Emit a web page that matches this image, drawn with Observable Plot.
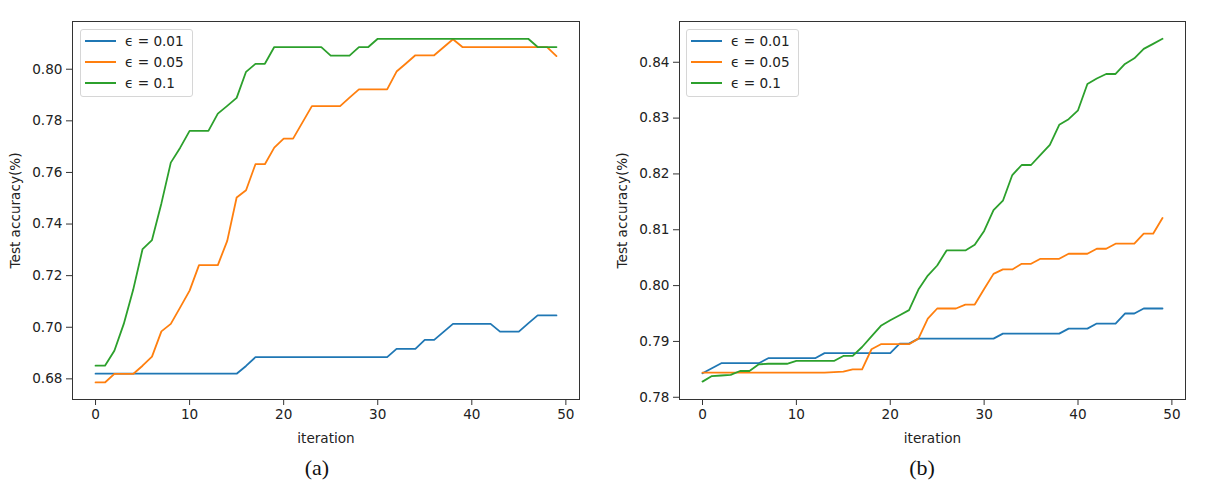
<!DOCTYPE html>
<html>
<head>
<meta charset="utf-8">
<script src="https://cdn.jsdelivr.net/npm/d3@7"></script>
<script src="https://cdn.jsdelivr.net/npm/@observablehq/plot@0.6"></script>
<style>
  html, body { margin: 0; padding: 0; background: #fff; }
  #wrap { position: relative; width: 1206px; height: 494px; overflow: hidden; font-family: "DejaVu Sans", sans-serif; }
  .panel { position: absolute; top: 0; }
  .legend { position: absolute; border: 1px solid #d6d6d6; border-radius: 3px; background: rgba(255,255,255,0.85); font-size: 13.6px; color: #222; box-sizing: border-box; }
  .legend .row { position: absolute; left: 0; height: 20px; line-height: 20px; white-space: nowrap; }
  .legend .sw { position: absolute; left: 4px; top: 9px; width: 31px; height: 2px; }
  .legend .lab { position: absolute; left: 44px; top: 0; }
  .caption { position: absolute; font-family: "Liberation Serif", "Times New Roman", serif; font-size: 22px; color: #111; text-align: center; width: 60px; }
</style>
</head>
<body>
<div id="wrap"></div>
<script>
// ---- data ----
const seriesNames = ["ϵ = 0.01", "ϵ = 0.05", "ϵ = 0.1"];
const seriesColors = ["#1f77b4", "#ff7f0e", "#2ca02c"];
const iterations = d3.range(50);

const xTicks = [0, 10, 20, 30, 40, 50];
const yTicksA = [0.68, 0.70, 0.72, 0.74, 0.76, 0.78, 0.80];
const yTicksB = [0.78, 0.79, 0.80, 0.81, 0.82, 0.83, 0.84];

// Panel (a)
const a_eps001 = [
  0.682,0.682,0.682,0.682,0.682,0.682,0.682,0.682,0.682,0.682,
  0.682,0.682,0.682,0.682,0.682,0.682,0.685,0.6884,0.6884,0.6884,
  0.6884,0.6884,0.6884,0.6884,0.6884,0.6884,0.6884,0.6884,0.6884,0.6884,
  0.6884,0.6884,0.6916,0.6916,0.6916,0.6951,0.6951,0.6982,0.7013,0.7013,
  0.7013,0.7013,0.7013,0.6983,0.6983,0.6983,0.7015,0.7046,0.7046,0.7046
];
const a_eps005 = [
  0.6786,0.6786,0.6819,0.6819,0.6819,0.6851,0.6886,0.6984,0.7013,0.7077,
  0.7142,0.7241,0.7241,0.7241,0.7335,0.7503,0.7531,0.7632,0.7632,0.7696,
  0.7731,0.7731,0.7794,0.7857,0.7857,0.7857,0.7857,0.789,0.7922,0.7922,
  0.7922,0.7922,0.7991,0.8022,0.8054,0.8054,0.8054,0.8085,0.8116,0.8086,
  0.8086,0.8086,0.8086,0.8086,0.8086,0.8086,0.8086,0.8086,0.8086,0.8051
];
const a_eps01 = [
  0.6851,0.6851,0.6909,0.7013,0.7145,0.7303,0.7338,0.748,0.7638,0.7696,
  0.7761,0.7761,0.7761,0.7828,0.7858,0.7889,0.799,0.8021,0.8021,0.8086,
  0.8086,0.8086,0.8086,0.8086,0.8086,0.8053,0.8053,0.8053,0.8086,0.8086,
  0.8118,0.8118,0.8118,0.8118,0.8118,0.8118,0.8118,0.8118,0.8118,0.8118,
  0.8118,0.8118,0.8118,0.8118,0.8118,0.8118,0.8118,0.8086,0.8086,0.8086
];

// Panel (b)
const b_eps001 = [
  0.7843,0.7852,0.7861,0.7861,0.7861,0.7861,0.7861,0.787,0.787,0.787,
  0.787,0.787,0.787,0.7879,0.7879,0.7879,0.7879,0.7879,0.7879,0.7879,
  0.7879,0.7896,0.7896,0.7905,0.7905,0.7905,0.7905,0.7905,0.7905,0.7905,
  0.7905,0.7905,0.7914,0.7914,0.7914,0.7914,0.7914,0.7914,0.7914,0.7923,
  0.7923,0.7923,0.7932,0.7932,0.7932,0.795,0.795,0.7959,0.7959,0.7959
];
const b_eps005 = [
  0.7844,0.7844,0.7844,0.7844,0.7844,0.7844,0.7844,0.7844,0.7844,0.7844,
  0.7844,0.7844,0.7844,0.7844,0.7845,0.7846,0.785,0.785,0.7886,0.7895,
  0.7895,0.7895,0.7895,0.7905,0.7941,0.7959,0.7959,0.7959,0.7966,0.7966,
  0.7994,0.8021,0.8029,0.8029,0.8039,0.8039,0.8048,0.8048,0.8048,0.8057,
  0.8057,0.8057,0.8066,0.8066,0.8075,0.8075,0.8075,0.8093,0.8093,0.8121
];
const b_eps01 = [
  0.7828,0.7838,0.7839,0.784,0.7847,0.7847,0.7859,0.786,0.786,0.786,
  0.7865,0.7865,0.7865,0.7865,0.7865,0.7874,0.7874,0.789,0.7909,0.7928,
  0.7938,0.7947,0.7956,0.7993,0.8018,0.8036,0.8063,0.8063,0.8063,0.8073,
  0.8098,0.8135,0.8152,0.8198,0.8216,0.8216,0.8234,0.8252,0.8288,0.8298,
  0.8314,0.8361,0.8371,0.8379,0.8379,0.8397,0.8407,0.8424,0.8433,0.8442
];

function toRows(arrs) {
  const rows = [];
  arrs.forEach((arr, s) => arr.forEach((v, i) => rows.push({iter: iterations[i], acc: v, series: seriesNames[s]})));
  return rows;
}

const wrap = document.getElementById("wrap");

function panel({rows, yDomain, yTicks, left, marginLeft, marginRight, legendLeft, caption, captionCenter}) {
  const W = 603, H = 450;
  const chart = Plot.plot({
    width: W,
    height: H,
    marginLeft, marginRight,
    marginTop: 21,
    marginBottom: 51,
    style: {fontFamily: "DejaVu Sans, sans-serif", fontSize: "13.6px", color: "#222", background: "white", overflow: "visible"},
    x: {domain: [-2.45, 51.45]},
    y: {domain: yDomain},
    color: {domain: seriesNames, range: seriesColors},
    marks: [
      Plot.line(rows, {x: "iter", y: "acc", z: "series", stroke: "series", strokeWidth: 1.8, strokeLinejoin: "round"}),
      Plot.frame({stroke: "#333", strokeWidth: 1}),
      Plot.axisX({ticks: xTicks, tickSize: 6, tickPadding: 4, stroke: "#333",
        label: "iteration", labelAnchor: "center", labelArrow: "none", labelOffset: 43, fontSize: 13.6}),
      Plot.axisY({ticks: yTicks, tickFormat: d3.format(".2f"), tickSize: 6, tickPadding: 4, stroke: "#333",
        label: "Test accuracy(%)", labelAnchor: "center", labelArrow: "none", labelOffset: 62, fontSize: 13.6})
    ]
  });
  const holder = document.createElement("div");
  holder.className = "panel";
  holder.style.left = left + "px";
  holder.appendChild(chart);
  wrap.appendChild(holder);

  const lg = document.createElement("div");
  lg.className = "legend";
  lg.style.left = legendLeft + "px";
  lg.style.top = "29px";
  lg.style.width = "113px";
  lg.style.height = "68px";
  seriesNames.forEach((n, i) => {
    const r = document.createElement("div");
    r.className = "row";
    r.style.top = (1 + i * 21) + "px";
    const sw = document.createElement("div");
    sw.className = "sw";
    sw.style.background = seriesColors[i];
    const lab = document.createElement("div");
    lab.className = "lab";
    lab.textContent = n;
    r.appendChild(sw); r.appendChild(lab);
    lg.appendChild(r);
  });
  wrap.appendChild(lg);

  const cap = document.createElement("div");
  cap.className = "caption";
  cap.textContent = caption;
  cap.style.left = (captionCenter - 30) + "px";
  cap.style.top = "455px";
  wrap.appendChild(cap);
}

panel({rows: toRows([a_eps001, a_eps005, a_eps01]), yDomain: [0.672, 0.8185], yTicks: yTicksA,
  left: 0, marginLeft: 72, marginRight: 24, legendLeft: 80, caption: "(a)", captionCenter: 317});
panel({rows: toRows([b_eps001, b_eps005, b_eps01]), yDomain: [0.7796, 0.8473], yTicks: yTicksB,
  left: 603, marginLeft: 76, marginRight: 21, legendLeft: 686, caption: "(b)", captionCenter: 922});
</script>
</body>
</html>
